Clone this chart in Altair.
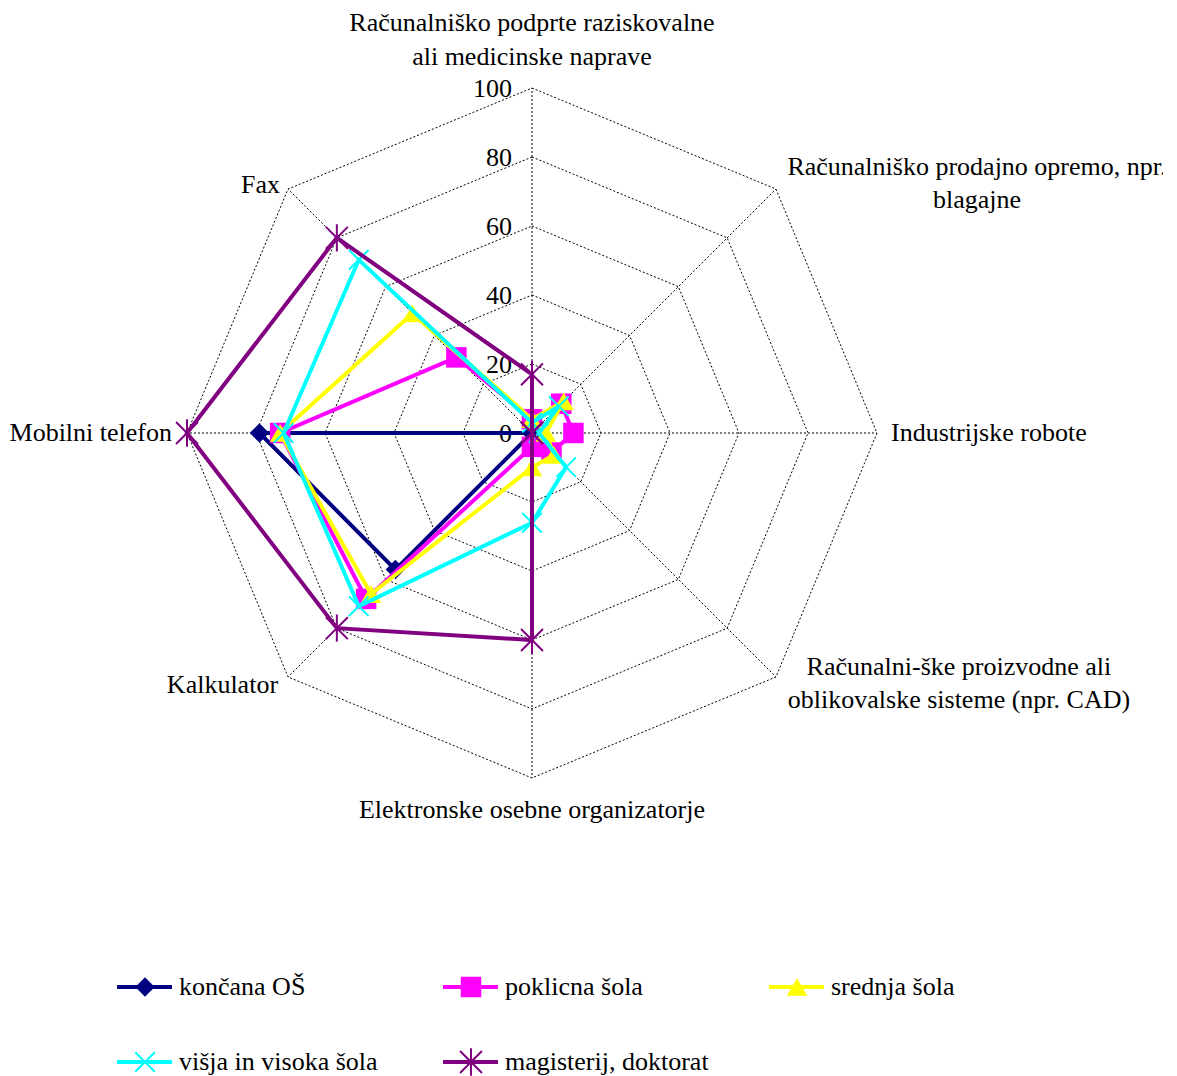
import math
import altair as alt
import pandas as pd

# ---------------- data ----------------
axis_labels = [
    ["Računalniško podprte raziskovalne", "ali medicinske naprave"],
    ["Računalniško prodajno opremo, npr.", "blagajne"],
    ["Industrijske robote"],
    ["Računalni-ške proizvodne ali", "oblikovalske sisteme (npr. CAD)"],
    ["Elektronske osebne organizatorje"],
    ["Kalkulator"],
    ["Mobilni telefon"],
    ["Fax"],
]
series = ["končana OŠ", "poklicna šola", "srednja šola",
          "višja in visoka šola", "magisterij, doktorat"]
v_koncana = [0, 0, 0, 0, 0, 56, 79, 0]
v_poklicna = [4, 12, 12, 8, 4, 68, 73, 31]
v_srednja = [4, 13, 4, 9, 10, 66, 73, 49]
v_visja = [3, 11, 2, 14, 26, 71, 72, 71]
v_magister = [17, 0, 0, 0, 60, 80, 100, 80]
values = [v_koncana, v_poklicna, v_srednja, v_visja, v_magister]
ticks = [0, 20, 40, 60, 80, 100]

# ---------------- styling / layout ----------------
colors = ["#000080", "#FF00FF", "#FFFF00", "#00FFFF", "#800080"]
shapes = ["diamond", "square", "triangle-up",
          "M-1,-1L1,1M-1,1L1,-1",
          "M-1,-1L1,1M-1,1L1,-1M0,-1.25L0,1.25"]
filled = [True, True, True, False, False]
sizes = [380, 420, 420, 380, 480]
FONT = "Liberation Serif"
FS = 26

PX = 3.45            # pixels per unit (100 -> 345 px)
CX, CY = 532, 433    # centre of the radar, page px
W, H = 1155, 1068
xmin, xmax = (8 - CX) / PX, (8 + W - CX) / PX
ymin, ymax = (CY - (8 + H)) / PX, (CY - 8) / PX
xs = alt.Scale(domain=[xmin, xmax], nice=False, zero=False)
ys = alt.Scale(domain=[ymin, ymax], nice=False, zero=False)
N = len(axis_labels)


def px(v):
    return v / PX


def X(f="x"):
    return alt.X(f"{f}:Q", scale=xs, axis=None)


def Y(f="y"):
    return alt.Y(f"{f}:Q", scale=ys, axis=None)


# ---------------- grid ----------------
ring_rows = []
for r in ticks[1:]:
    for i in range(N + 1):
        ring_rows.append({"ring": r, "idx": i, "v": r})
rings = alt.Chart(pd.DataFrame(ring_rows)).transform_calculate(
    x=f"datum.v*sin(datum.idx*2*PI/{N})",
    y=f"datum.v*cos(datum.idx*2*PI/{N})",
).mark_line(color="black", strokeWidth=1, strokeDash=[2, 2]).encode(
    x=X(), y=Y(), detail="ring:N", order="idx:Q")

spokes = alt.Chart(pd.DataFrame({"idx": list(range(N)), "v": [ticks[-1]] * N})).transform_calculate(
    x=f"datum.v*sin(datum.idx*2*PI/{N})",
    y=f"datum.v*cos(datum.idx*2*PI/{N})",
    x0="0", y0="0",
).mark_rule(color="black", strokeWidth=1, strokeDash=[2, 2]).encode(
    x=X("x0"), y=Y("y0"), x2="x:Q", y2="y:Q")

tick_labels = alt.Chart(pd.DataFrame({"t": ticks})).transform_calculate(
    x="0", y="datum.t", lab="''+datum.t"
).mark_text(font=FONT, fontSize=FS, align="right", baseline="middle", dx=-20, dy=1,
            color="black").encode(x=X(), y=Y(), text="lab:N")

# ---------------- axis labels ----------------
# (dx, dy of first line, line step, align) in px relative to the 100-point of each axis
label_layout = [
    (0, -65, 34, "center"),
    (201, -22, 33, "center"),
    (14, 0, 0, "left"),
    (183, -10, 33, "center"),
    (0, 32, 0, "center"),
    (-10, 8, 0, "right"),
    (-15, 0, 0, "right"),
    (-8, -4, 0, "right"),
]
lab_rows = []
for i, lines in enumerate(axis_labels):
    dx, dy, step, al = label_layout[i]
    a = i * 2 * math.pi / N
    bx = ticks[-1] * math.sin(a)
    by = ticks[-1] * math.cos(a)
    for k, t in enumerate(lines):
        lab_rows.append({"text": t, "x": bx + px(dx), "y": by - px(dy + k * step), "align": al})
lab_df = pd.DataFrame(lab_rows)
label_layers = []
for al in ["left", "center", "right"]:
    label_layers.append(
        alt.Chart(lab_df[lab_df["align"] == al]).mark_text(
            font=FONT, fontSize=FS, align=al, baseline="middle", color="black"
        ).encode(x=X(), y=Y(), text="text:N"))

# ---------------- series ----------------
series_layers = []
for s, name in enumerate(series):
    rows = []
    for i in range(N + 1):
        rows.append({"series": name, "idx": i, "v": values[s][i % N]})
    base = alt.Chart(pd.DataFrame(rows)).transform_calculate(
        x=f"datum.v*sin(datum.idx*2*PI/{N})",
        y=f"datum.v*cos(datum.idx*2*PI/{N})",
    )
    line = base.mark_line(color=colors[s], strokeWidth=4).encode(x=X(), y=Y(), order="idx:Q")
    if filled[s]:
        pts = base.transform_filter(f"datum.idx < {N}").mark_point(
            shape=shapes[s], filled=True, color=colors[s], size=sizes[s], opacity=1)
    else:
        pts = base.transform_filter(f"datum.idx < {N}").mark_point(
            shape=shapes[s], filled=False, color=colors[s], size=sizes[s], strokeWidth=2, opacity=1)
    series_layers += [line, pts.encode(x=X(), y=Y())]

# ---------------- legend ----------------
LEG_X0, LEG_COLSTEP, LEG_Y0, LEG_ROWSTEP = 117, 326, 987, 75
leg_rows = []
for s, name in enumerate(series):
    col, row = s % 3, s // 3
    lx = LEG_X0 + col * LEG_COLSTEP
    ly = LEG_Y0 + row * LEG_ROWSTEP
    leg_rows.append({
        "series": name, "s": s,
        "x1": px(lx - CX), "x2": px(lx + 55 - CX), "xm": px(lx + 28 - CX),
        "xt": px(lx + 62 - CX), "y": px(CY - ly),
    })
leg_df = pd.DataFrame(leg_rows)
legend_layers = []
for s, name in enumerate(series):
    d = leg_df[leg_df["s"] == s]
    legend_layers.append(alt.Chart(d).mark_rule(color=colors[s], strokeWidth=4).encode(
        x=X("x1"), x2="x2:Q", y=Y()))
    if filled[s]:
        m = alt.Chart(d).mark_point(shape=shapes[s], filled=True, color=colors[s],
                                    size=sizes[s], opacity=1)
    else:
        m = alt.Chart(d).mark_point(shape=shapes[s], filled=False, color=colors[s],
                                    size=sizes[s], strokeWidth=2, opacity=1)
    legend_layers.append(m.encode(x=X("xm"), y=Y()))
legend_layers.append(alt.Chart(leg_df).mark_text(
    font=FONT, fontSize=FS, align="left", baseline="middle", color="black"
).encode(x=X("xt"), y=Y(), text="series:N"))

chart = alt.layer(
    rings, spokes, tick_labels, *label_layers, *series_layers, *legend_layers
).properties(
    width=W, height=H, padding=0, autosize=alt.AutoSizeParams(type="none")
).configure_view(stroke=None)

chart.save("out.html", embed_options={"renderer": "svg", "actions": False})
